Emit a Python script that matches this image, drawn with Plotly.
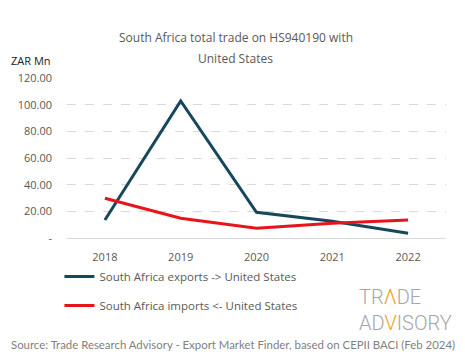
import plotly.graph_objects as go

years = ["2018", "2019", "2020", "2021", "2022"]
exports = [13.5, 102.8, 19.3, 12.5, 3.5]
imports = [29.8, 14.8, 7.3, 11.0, 13.5]
y_ticks = [0, 20, 40, 60, 80, 100, 120]
y_tick_labels = ["-", "20.00", "40.00", "60.00", "80.00", "100.00", "120.00"]

FONT = "Open Sans"
GREY = "#595959"

fig = go.Figure()
fig.add_trace(go.Scatter(x=years, y=exports, mode="lines",
                         name="South Africa exports -> United States",
                         legendgroup="a",
                         line=dict(color="#17475c", width=3)))
fig.add_trace(go.Scatter(x=years, y=imports, mode="lines",
                         name="South Africa imports <- United States",
                         legendgroup="b",
                         line=dict(color="#e8141b", width=3)))

fig.update_layout(
    width=465, height=359,
    margin=dict(l=67, r=19, t=78, b=121, autoexpand=False),
    plot_bgcolor="white", paper_bgcolor="white",
    font=dict(family=FONT, color=GREY, size=11),
    showlegend=True,
    legend=dict(x=-0.02, y=-0.15, xanchor="left", yanchor="top",
                orientation="v", traceorder="grouped", tracegroupgap=10,
                itemwidth=30,
                font=dict(size=11.5, color=GREY, family=FONT),
                bgcolor="rgba(0,0,0,0)"),
    xaxis=dict(type="category", showgrid=False, showline=True,
               range=[-0.5, 4.5],
               linecolor="#d9d9d9", linewidth=1, ticks="",
               ticklabelstandoff=9,
               tickfont=dict(size=11, color=GREY), fixedrange=True),
    yaxis=dict(range=[0, 120], tickvals=y_ticks, ticktext=y_tick_labels,
               showgrid=True, gridcolor="#d9d9d9", griddash="dash",
               gridwidth=1, zeroline=False, ticks="",
               ticklabelstandoff=14,
               tickfont=dict(size=11, color=GREY)),
)

fig.add_annotation(text="South Africa total trade on HS940190 with",
                   xref="paper", yref="paper", x=0.445, y=1.255,
                   xanchor="center", yanchor="middle", showarrow=False,
                   font=dict(size=12, color=GREY, family=FONT))
fig.add_annotation(text="United States",
                   xref="paper", yref="paper", x=0.445, y=1.124,
                   xanchor="center", yanchor="middle", showarrow=False,
                   font=dict(size=12, color=GREY, family=FONT))

fig.add_annotation(text="ZAR Mn", xref="paper", yref="paper", x=-0.152, y=1.11,
                   xanchor="left", yanchor="middle", showarrow=False,
                   font=dict(size=11, color="#222222", family=FONT))

fig.add_annotation(
    text="TR<span style='color:#f0a020'>Λ</span>DE<br>AD<span style='color:#f0a020'>V</span>ISORY",
    xref="paper", yref="paper", x=1.02, y=-0.45, xanchor="right", yanchor="middle",
    align="left",
    showarrow=False, font=dict(size=20, color="#a6a6a6", family="Roboto", weight=300))

fig.add_annotation(
    text="Source: Trade Research Advisory - Export Market Finder, based on CEPII BACI (Feb 2024)",
    xref="paper", yref="paper", x=-0.152, y=-0.6625, xanchor="left", yanchor="middle",
    showarrow=False, font=dict(size=11.4, color="#7f7f7f", family="Lato"))

fig.write_html("out.html", config={"displayModeBar": False},
               post_script="document.body.style.margin='0';")
